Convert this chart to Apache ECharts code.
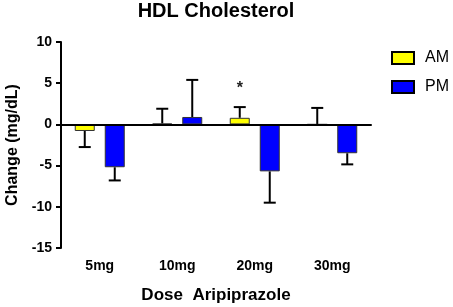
<!DOCTYPE html>
<html>
<head>
<meta charset="utf-8">
<script src="https://cdn.jsdelivr.net/npm/echarts@6/dist/echarts.min.js"></script>
<style>
    html, body { margin: 0; padding: 0; background: #fff; }
    #chart { width: 453px; height: 307px; }
</style>
</head>
<body>
<div id="chart"></div>
<script>
// values
const doses = ['5mg', '10mg', '20mg', '30mg'];
const amMean = [-0.8, 0.1, 0.8, 0];
const amErr = [1.95, 1.8, 1.3, 2.0];
const pmMean = [-5.2, 0.9, -5.7, -3.5];
const pmErr = [1.6, 4.5, 3.8, 1.35];
const yTicks = [-15, -10, -5, 0, 5, 10];

const font = 'Liberation Sans, Arial, sans-serif';
const chart = echarts.init(document.getElementById('chart'));

// error bar drawn away from zero, offset to sit on its bar
function errorBars(means, errs, shift) {
    return {
        type: 'custom',
        silent: true,
        z: 1,
        data: means.map((m, i) => [i, m, errs[i]]),
        renderItem: function (params, api) {
            const i = api.value(0);
            const m = api.value(1);
            const e = api.value(2);
            const end = m < 0 ? m - e : m + e;
            const p0 = api.coord([i, m]);
            const p1 = api.coord([i, end]);
            const x = p0[0] + shift;
            const st = { stroke: '#000', lineWidth: 2 };
            return {
                type: 'group',
                children: [
                    { type: 'line', shape: { x1: x, y1: p0[1], x2: x, y2: p1[1] }, style: st },
                    { type: 'line', shape: { x1: x - 6, y1: p1[1], x2: x + 6, y2: p1[1] }, style: st }
                ]
            };
        }
    };
}

const option = {
    animation: false,
    title: {
        text: 'HDL Cholesterol',
        left: 216,
        textAlign: 'center',
        top: 1,
        padding: 0,
        textStyle: { fontFamily: font, fontSize: 20, fontWeight: 'bold', color: '#000' }
    },
    legend: {
        orient: 'vertical',
        left: 391,
        top: 50,
        padding: 0,
        itemWidth: 22,
        itemHeight: 12,
        itemGap: 13,
        icon: 'rect',
        data: ['AM', 'PM'],
        itemStyle: { borderColor: '#000', borderWidth: 2 },
        textStyle: { fontFamily: font, fontSize: 16, color: '#000', padding: [0, 0, 0, 6] }
    },
    grid: { left: 61, right: 82, top: 42, bottom: 59, containLabel: false, outerBoundsMode: 'none' },
    xAxis: {
        type: 'category',
        data: doses,
        name: 'Dose  Aripiprazole',
        nameLocation: 'middle',
        nameGap: 39,
        nameTextStyle: { fontFamily: font, fontSize: 17, fontWeight: 'bold', color: '#000' },
        axisLine: { lineStyle: { color: '#000', width: 2 } },
        axisTick: { alignWithLabel: true, length: 5, lineStyle: { color: '#000', width: 2 } },
        axisLabel: { fontFamily: font, fontSize: 14, fontWeight: 'bold', color: '#000', margin: 11 }
    },
    yAxis: {
        type: 'value',
        min: yTicks[0],
        max: yTicks[yTicks.length - 1],
        interval: 5,
        name: 'Change (mg/dL)',
        nameLocation: 'middle',
        nameGap: 40,
        nameTextStyle: { fontFamily: font, fontSize: 16, fontWeight: 'bold', color: '#000' },
        splitLine: { show: false },
        axisLine: { show: true, lineStyle: { color: '#000', width: 2 } },
        axisTick: { show: true, length: 5, lineStyle: { color: '#000', width: 2 } },
        axisLabel: { fontFamily: font, fontSize: 14, fontWeight: 'bold', color: '#000', margin: 9 }
    },
    series: [
        {
            name: 'AM',
            type: 'bar',
            data: amMean,
            barWidth: 20,
            barGap: '50%',
            itemStyle: { color: '#ffff00', borderColor: '#333', borderWidth: 1 },
            markLine: {
                silent: true,
                symbol: 'none',
                label: { show: false },
                lineStyle: { color: '#000', width: 2, type: 'solid' },
                data: [{ yAxis: 0 }]
            },
            markPoint: {
                symbol: 'circle',
                symbolSize: 1,
                itemStyle: { color: 'transparent' },
                label: {
                    show: true,
                    formatter: '*',
                    offset: [0, 3],
                    fontFamily: font,
                    fontSize: 16,
                    fontWeight: 'bold',
                    color: '#222'
                },
                data: [{ coord: ['20mg', 4.7] }]
            }
        },
        {
            name: 'PM',
            type: 'bar',
            data: pmMean,
            barWidth: 20,
            barGap: '50%',
            itemStyle: { color: '#0000ff', borderColor: '#333', borderWidth: 1 }
        },
        errorBars(amMean, amErr, -15),
        errorBars(pmMean, pmErr, 15)
    ]
};

chart.setOption(option);
window.addEventListener('resize', function () {
    chart.resize();
});
</script>
</body>
</html>
